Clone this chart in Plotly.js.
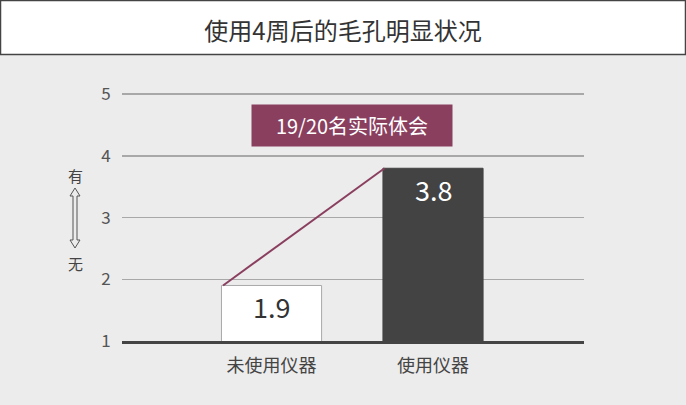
<!DOCTYPE html>
<html>
<head>
<meta charset="utf-8">
<script src="https://cdn.plot.ly/plotly-3.0.1.min.js"></script>
<style>
html,body{margin:0;padding:0;background:#ececec;}
#chart{width:686px;height:405px;}
</style>
</head>
<body>
<div id="chart"></div>
<script>
const titleText = '使用4周后的毛孔明显状况';
const categories = ['未使用仪器', '使用仪器'];
const values = [1.9, 3.8];
const barColors = ['#ffffff', '#434343'];
const barLineColors = ['#a9a9a9', '#434343'];
const labelColors = ['#333333', '#ffffff'];
const yTicks = [1, 2, 3, 4, 5];
const calloutText = '19/20名实际体会';
const axisHigh = '有';
const axisLow = '无';

const FONT = '"Noto Sans CJK SC", "Noto Sans", sans-serif';
const W = 686, H = 405;
const M = {l: 122, r: 102, t: 93, b: 64};
const PW = W - M.l - M.r, PH = H - M.t - M.b;
const px2x = p => (p - M.l) / PW;
const py2y = p => (H - M.b - p) / PH;

const idx = categories.map((c, i) => i);

const barTrace = {
  type: 'bar',
  x: idx,
  y: values,
  width: 0.62,
  marker: {color: barColors, line: {color: barLineColors, width: 1}},
  hoverinfo: 'skip',
  showlegend: false
};

const lineTrace = {
  type: 'scatter',
  mode: 'lines',
  x: idx.map(i => i - 0.3),
  y: values,
  line: {color: '#8a3f5f', width: 2},
  hoverinfo: 'skip',
  showlegend: false
};

const valueAnns = values.map((v, i) => ({
  x: i, y: v, xref: 'x', yref: 'y',
  text: v.toFixed(1),
  showarrow: false,
  xanchor: 'center',
  yanchor: 'middle',
  yshift: -21,
  font: {family: FONT, size: 27, color: labelColors[i]}
}));

// arrow path (hollow double arrow) in pixel space then to paper
const arrCx = 75, arrTop = 188, arrBot = 248;
const pts = [[arrCx, arrTop], [arrCx + 5, arrTop + 8], [arrCx + 2, arrTop + 8], [arrCx + 2, arrBot - 8], [arrCx + 5, arrBot - 8],
  [arrCx, arrBot], [arrCx - 5, arrBot - 8], [arrCx - 2, arrBot - 8], [arrCx - 2, arrTop + 8], [arrCx - 5, arrTop + 8]];
const arrowPath = 'M' + pts.map(p => px2x(p[0]).toFixed(5) + ',' + py2y(p[1]).toFixed(5)).join(' L') + ' Z';

const layout = {
  width: W, height: H,
  margin: M,
  paper_bgcolor: '#ececec',
  plot_bgcolor: '#ececec',
  font: {family: FONT, color: '#444'},
  title: {
    text: titleText,
    font: {family: FONT, size: 24, color: '#333'},
    x: 0.5, xref: 'container', xanchor: 'center',
    y: 1 - 31.5 / H, yref: 'container', yanchor: 'middle'
  },
  xaxis: {
    range: [-0.926, 1.935],
    tickvals: idx,
    ticktext: categories,
    tickfont: {family: FONT, size: 18, color: '#444'},
    ticks: 'outside', ticklen: 7, tickcolor: 'rgba(0,0,0,0)',
    showgrid: false, zeroline: false,
    showline: true, linecolor: '#444', linewidth: 2.5,
    fixedrange: true
  },
  yaxis: {
    range: [1, 5.02],
    tickvals: yTicks,
    tickfont: {family: FONT, size: 17, color: '#555'},
    ticks: 'outside', ticklen: 7, tickcolor: 'rgba(0,0,0,0)',
    showgrid: true, gridcolor: '#a8a8a8', gridwidth: 1.6,
    zeroline: false, showline: false,
    fixedrange: true
  },
  shapes: [
    {type: 'rect', xref: 'paper', yref: 'paper', layer: 'below',
      x0: px2x(0.5), x1: px2x(685.5), y0: py2y(54.5), y1: py2y(0.5),
      fillcolor: '#ffffff', line: {color: '#444', width: 1.5}},
    {type: 'path', xref: 'paper', yref: 'paper', path: arrowPath,
      line: {color: '#555', width: 1}, fillcolor: 'rgba(0,0,0,0)'}
  ],
  annotations: [
    ...valueAnns,
    {x: (idx[0] + idx[1]) / 2, y: 4.5, xref: 'x', yref: 'y',
      text: calloutText, showarrow: false, xanchor: 'center', yanchor: 'middle',
      bgcolor: '#8a3f5f', borderpad: 0, width: 200, height: 41,
      font: {family: FONT, size: 20, color: '#ffffff'}},
    {x: px2x(75), y: py2y(175), xref: 'paper', yref: 'paper', text: axisHigh,
      xanchor: 'center', yanchor: 'middle',
      showarrow: false, font: {family: FONT, size: 15, color: '#444'}},
    {x: px2x(75), y: py2y(263), xref: 'paper', yref: 'paper', text: axisLow,
      xanchor: 'center', yanchor: 'middle',
      showarrow: false, font: {family: FONT, size: 15, color: '#444'}}
  ]
};

Plotly.newPlot('chart', [barTrace, lineTrace], layout, {displayModeBar: false, staticPlot: true});
</script>
</body>
</html>
